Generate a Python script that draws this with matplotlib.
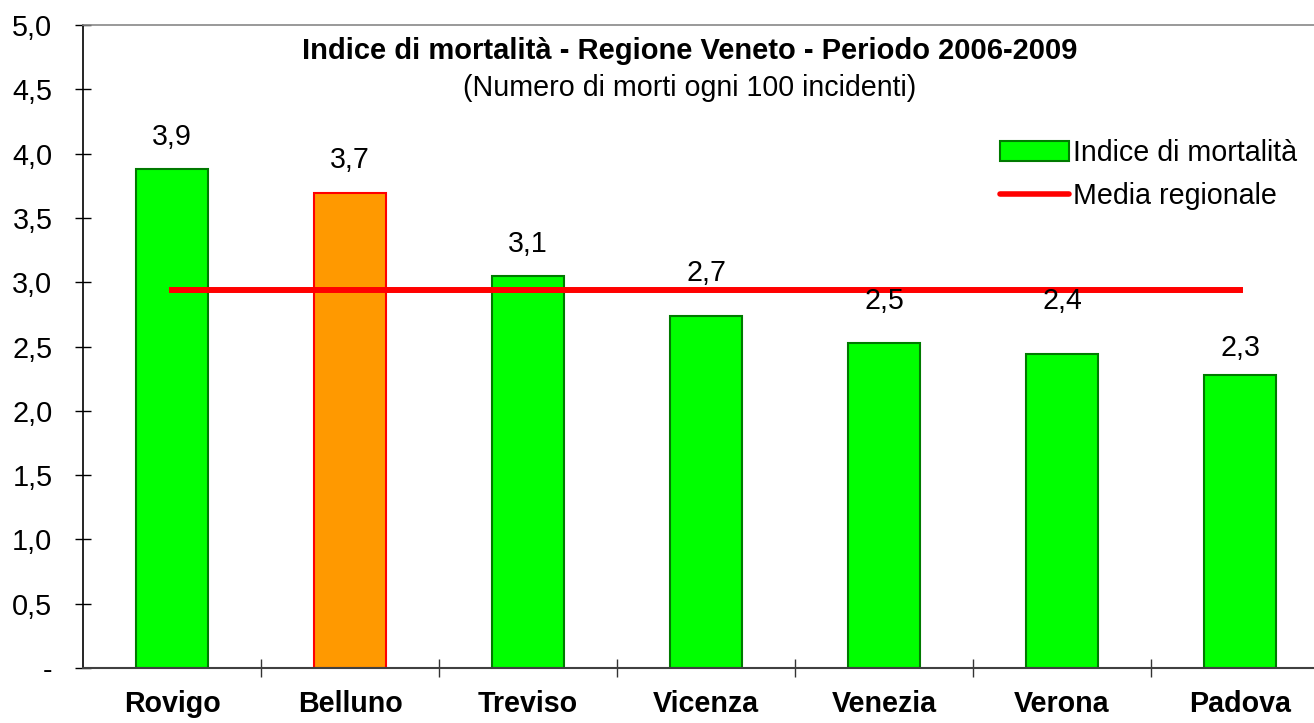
import matplotlib
matplotlib.use("Agg")
import matplotlib.pyplot as plt
from matplotlib.patches import Patch
from matplotlib.lines import Line2D

plt.rcParams['font.family'] = ['Liberation Sans', 'DejaVu Sans']

province = ['Rovigo', 'Belluno', 'Treviso', 'Vicenza', 'Venezia', 'Verona', 'Padova']
indice = [3.88, 3.69, 3.051, 2.74, 2.53, 2.44, 2.28]
media_regionale = 2.94
y_ticks = [0, 0.5, 1.0, 1.5, 2.0, 2.5, 3.0, 3.5, 4.0, 4.5, 5.0]
y_labels = ['-', '0,5', '1,0', '1,5', '2,0', '2,5', '3,0', '3,5', '4,0', '4,5', '5,0']
evidenziata = 'Belluno'

fig = plt.figure(figsize=(13.14, 7.23), dpi=100)
ax = fig.add_axes([83 / 1314, 55 / 723, 1246 / 1314, 643 / 723])

x = list(range(len(province)))
colori = ['#FF9900' if p == evidenziata else '#00FF00' for p in province]
bordi = ['#FF0000' if p == evidenziata else '#007A00' for p in province]
ax.bar(x, indice, width=0.4, color=colori, edgecolor=bordi, linewidth=1.5, zorder=2)

ax.plot(x, [media_regionale] * len(x), color='#FF0000', linewidth=4.3, zorder=3)

# etichette sopra le barre (spostate a mano come nell'originale)
label_offsets = [23, 24, 23, 31, 30, 38, 19]
for xi, v, off in zip(x, indice, label_offsets):
    ax.annotate(f"{v:.1f}".replace('.', ','), (xi, v), xytext=(0, off),
                textcoords='offset points', ha='center', va='center', fontsize=20.6)

ax.set_xlim(-0.5, len(province) - 0.5)
ax.set_ylim(0, 5)
ax.set_yticks(y_ticks)
ax.set_yticklabels(y_labels, fontsize=20.8)
ax.tick_params(axis='y', direction='inout', length=12, width=1, pad=16)

ax.set_xticks(x)
ax.set_xticklabels(province, fontsize=20.6, fontweight='bold')
ax.tick_params(axis='x', which='major', length=0, pad=16)
ax.set_xticks([i + 0.5 for i in x], minor=True)
ax.tick_params(axis='x', which='minor', direction='inout', length=13, width=1, color='#333333')

ax.spines['right'].set_visible(False)
ax.spines['top'].set_color('#888888')
ax.spines['top'].set_linewidth(1.2)
ax.spines['left'].set_linewidth(1.2)
ax.spines['bottom'].set_color('#404040')
ax.spines['bottom'].set_linewidth(1.5)

fig.text(690 / 1314, 1 - 51 / 723, 'Indice di mortalità - Regione Veneto - Periodo 2006-2009',
         ha='center', va='center', fontsize=21, fontweight='bold')
fig.text(690 / 1314, 1 - 88 / 723, '(Numero di morti ogni 100 incidenti)',
         ha='center', va='center', fontsize=20.6)

handles = [Patch(facecolor='#00FF00', edgecolor='#007A00', linewidth=1.5),
           Line2D([0], [0], color='#FF0000', linewidth=4, solid_capstyle='round')]
fig.legend(handles, ['Indice di mortalità', 'Media regionale'], loc='center left',
           bbox_to_anchor=(1000 / 1314, 1 - 174.5 / 723), frameon=False, fontsize=20.6,
           handlelength=2.4, handletextpad=0.15, labelspacing=0.55,
           borderpad=0, borderaxespad=0)

fig.savefig('out.png', dpi=100)
